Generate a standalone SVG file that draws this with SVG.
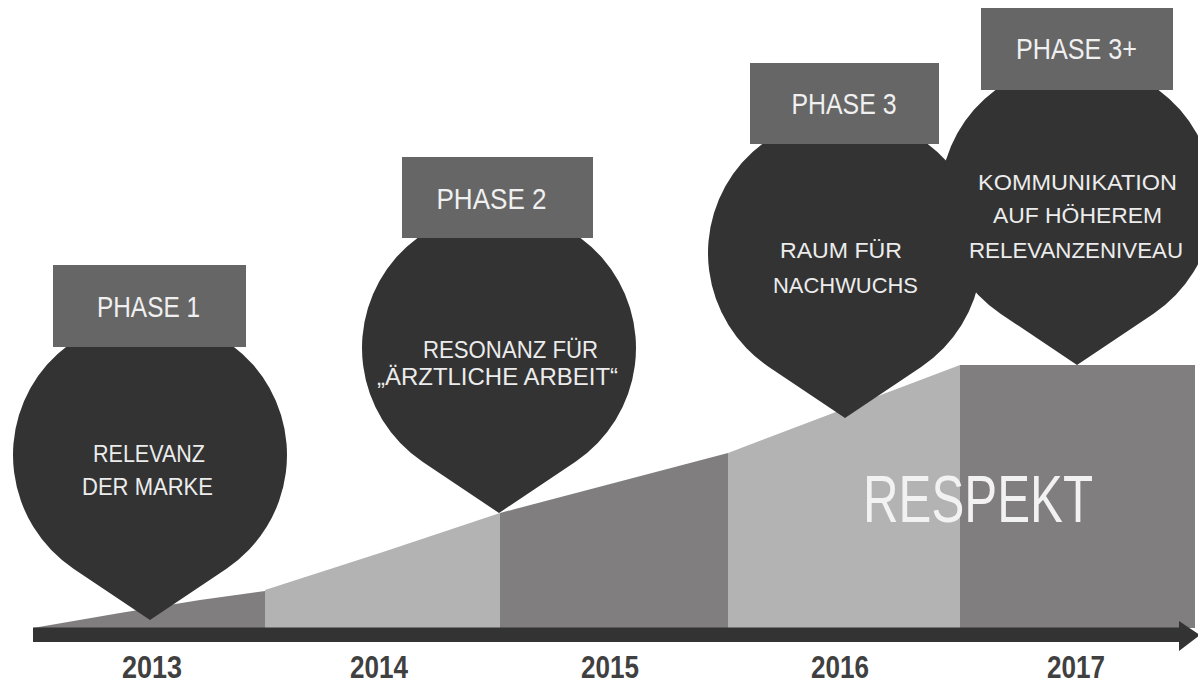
<svg xmlns="http://www.w3.org/2000/svg" width="1198" height="685" viewBox="0 0 1198 685">
<style>
.seg-d{fill:#807e7f}
.seg-l{fill:#b3b3b3}
.drop{fill:#333333}
.box{fill:#666666}
.ptxt{font-family:"Liberation Sans",Arial,sans-serif;font-size:29px;fill:#f0f0f0;text-anchor:middle}
.dtxt{font-family:"Liberation Sans",Arial,sans-serif;font-size:24px;fill:#ececec;text-anchor:middle}
.dtxs{font-family:"Liberation Sans",Arial,sans-serif;font-size:21.5px;fill:#ececec;text-anchor:middle}
.year{font-family:"Liberation Sans",Arial,sans-serif;font-size:31px;font-weight:bold;fill:#404040;text-anchor:middle}
.big{font-family:"Liberation Sans",Arial,sans-serif;font-size:66px;fill:#f2f2f2;text-anchor:middle}
</style>
<rect width="1198" height="685" fill="#ffffff"/>
<g id="segments">
<polygon class="seg-d" points="33,628 120,613 200,600 265,591 265,628"/>
<polygon class="seg-l" points="265,590 383,552 500,513 500,628 265,628"/>
<polygon class="seg-d" points="500,513 728,453 728,628 500,628"/>
<polygon class="seg-l" points="728,453 960,365 960,628 728,628"/>
<rect class="seg-d" x="960" y="365" width="235" height="263"/>
<text class="big" x="978" y="522" textLength="230" lengthAdjust="spacingAndGlyphs">RESPEKT</text>
</g>
<g id="phase1">
<path class="drop" d="M73.5,568.7 A137,137 0 1 1 226.5,568.7 L150,620 Z"/>
<rect class="box" x="53" y="265" width="193" height="82"/>
<text class="ptxt" x="148.5" y="317" textLength="103" lengthAdjust="spacingAndGlyphs">PHASE 1</text>
<text class="dtxt" x="149" y="462" textLength="112" lengthAdjust="spacingAndGlyphs">RELEVANZ</text>
<text class="dtxt" x="147.5" y="495" textLength="131" lengthAdjust="spacingAndGlyphs">DER MARKE</text>
</g>
<g id="phase2">
<path class="drop" d="M422.5,461.7 A137,137 0 1 1 575.5,461.7 L499,513 Z"/>
<rect class="box" x="402" y="157" width="191" height="81"/>
<text class="ptxt" x="491.5" y="208.5" textLength="110" lengthAdjust="spacingAndGlyphs">PHASE 2</text>
<text class="dtxt" x="510.5" y="358" textLength="175" lengthAdjust="spacingAndGlyphs">RESONANZ FÜR</text>
<text class="dtxt" x="497.5" y="385" textLength="241" lengthAdjust="spacingAndGlyphs">„ÄRZTLICHE ARBEIT“</text>
</g>
<g id="phase3">
<path class="drop" d="M768.5,366.7 A137,137 0 1 1 921.5,366.7 L845,418 Z"/>
<rect class="box" x="750" y="63" width="189" height="81"/>
<text class="ptxt" x="844" y="114" textLength="105" lengthAdjust="spacingAndGlyphs">PHASE 3</text>
<text class="dtxs" x="841" y="258" textLength="122" lengthAdjust="spacingAndGlyphs">RAUM FÜR</text>
<text class="dtxs" x="845.5" y="293" textLength="145" lengthAdjust="spacingAndGlyphs">NACHWUCHS</text>
</g>
<g id="phase3plus">
<path class="drop" d="M1000.5,313.7 A137,137 0 1 1 1153.5,313.7 L1077,365 Z"/>
<rect class="box" x="981" y="8" width="192" height="82"/>
<text class="ptxt" x="1076.5" y="59" textLength="121" lengthAdjust="spacingAndGlyphs">PHASE 3+</text>
<text class="dtxs" x="1077.5" y="190" textLength="199" lengthAdjust="spacingAndGlyphs">KOMMUNIKATION</text>
<text class="dtxs" x="1077.5" y="223" textLength="169" lengthAdjust="spacingAndGlyphs">AUF HÖHEREM</text>
<text class="dtxs" x="1076" y="258" textLength="214" lengthAdjust="spacingAndGlyphs">RELEVANZENIVEAU</text>
</g>
<g id="connectors">
<rect x="33" y="627.5" width="1148" height="14.5" fill="#333333"/>
<polygon points="1179,621 1200,635 1179,651" fill="#333333"/>
</g>
<g id="years">
<text class="year" x="152" y="678" textLength="60" lengthAdjust="spacingAndGlyphs">2013</text>
<text class="year" x="379" y="678" textLength="58" lengthAdjust="spacingAndGlyphs">2014</text>
<text class="year" x="610" y="678" textLength="58" lengthAdjust="spacingAndGlyphs">2015</text>
<text class="year" x="840" y="678" textLength="58" lengthAdjust="spacingAndGlyphs">2016</text>
<text class="year" x="1076" y="678" textLength="58" lengthAdjust="spacingAndGlyphs">2017</text>
</g>
</svg>
